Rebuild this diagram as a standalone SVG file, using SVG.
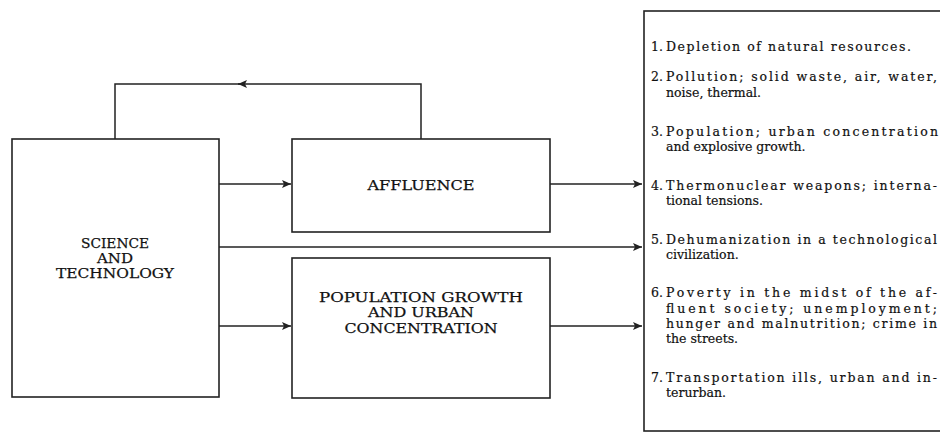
<svg xmlns="http://www.w3.org/2000/svg" width="940" height="432" viewBox="0 0 940 432">
<style>
.box{fill:#fff;stroke:#222;stroke-width:1.6}
.ln{fill:none;stroke:#222;stroke-width:1.5}
.cap{font-family:"DejaVu Serif","Liberation Serif",serif;font-size:13.5px;fill:#111;stroke:#111;stroke-width:0.25;text-anchor:middle}
.li{font-family:"DejaVu Serif","Liberation Serif",serif;font-size:12.5px;fill:#111;stroke:#111;stroke-width:0.2}
</style>
<defs>
<marker id="ah" markerWidth="10" markerHeight="8" refX="9" refY="4" orient="auto" markerUnits="userSpaceOnUse">
<path d="M0,0 L9,4 L0,8 L2,4 Z" fill="#222"/>
</marker>
</defs>
<rect width="940" height="432" fill="#fff"/>
<g id="connectors">
<path class="ln" d="M421,139 V84 H238" marker-end="url(#ah)"/>
<path class="ln" d="M240,84 H115 V139"/>
<path class="ln" d="M219,184 H291" marker-end="url(#ah)"/>
<path class="ln" d="M219,326 H291" marker-end="url(#ah)"/>
<path class="ln" d="M219,247 H642" marker-end="url(#ah)"/>
<path class="ln" d="M550,184 H642" marker-end="url(#ah)"/>
<path class="ln" d="M550,326 H642" marker-end="url(#ah)"/>
</g>
<g id="science">
<rect class="box" x="12" y="139" width="207" height="258"/>
<text class="cap" x="115" y="248" textLength="68" lengthAdjust="spacingAndGlyphs">SCIENCE</text>
<text class="cap" x="115" y="263" textLength="36" lengthAdjust="spacingAndGlyphs">AND</text>
<text class="cap" x="115" y="278" textLength="118" lengthAdjust="spacingAndGlyphs">TECHNOLOGY</text>
</g>
<g id="affluence">
<rect class="box" x="292" y="139" width="258" height="93"/>
<text class="cap" x="421" y="190" textLength="107" lengthAdjust="spacingAndGlyphs">AFFLUENCE</text>
</g>
<g id="population">
<rect class="box" x="292" y="258" width="258" height="140"/>
<text class="cap" x="421" y="302" textLength="204" lengthAdjust="spacingAndGlyphs">POPULATION GROWTH</text>
<text class="cap" x="421" y="317" textLength="106" lengthAdjust="spacingAndGlyphs">AND URBAN</text>
<text class="cap" x="421" y="333" textLength="153" lengthAdjust="spacingAndGlyphs">CONCENTRATION</text>
</g>
<g id="problems">
<rect class="box" x="644" y="11" width="300" height="420"/>
<text class="li" x="651" y="51">1.</text>
<text class="li" x="666" y="51" textLength="245">Depletion of natural resources.</text>
<text class="li" x="651" y="81">2.</text>
<text class="li" x="666" y="81" textLength="271">Pollution; solid waste, air, water,</text>
<text class="li" x="666" y="97">noise, thermal.</text>
<text class="li" x="651" y="136">3.</text>
<text class="li" x="666" y="136" textLength="272">Population; urban concentration</text>
<text class="li" x="666" y="151">and explosive growth.</text>
<text class="li" x="651" y="190">4.</text>
<text class="li" x="666" y="190" textLength="271">Thermonuclear weapons; interna-</text>
<text class="li" x="666" y="205">tional tensions.</text>
<text class="li" x="651" y="244">5.</text>
<text class="li" x="666" y="244" textLength="271">Dehumanization in a technological</text>
<text class="li" x="666" y="259">civilization.</text>
<text class="li" x="651" y="297">6.</text>
<text class="li" x="666" y="297" textLength="271">Poverty in the midst of the af-</text>
<text class="li" x="666" y="313" textLength="271">fluent society; unemployment;</text>
<text class="li" x="666" y="328" textLength="271">hunger and malnutrition; crime in</text>
<text class="li" x="666" y="343">the streets.</text>
<text class="li" x="651" y="382">7.</text>
<text class="li" x="666" y="382" textLength="271">Transportation ills, urban and in-</text>
<text class="li" x="666" y="397">terurban.</text>
</g>
</svg>
